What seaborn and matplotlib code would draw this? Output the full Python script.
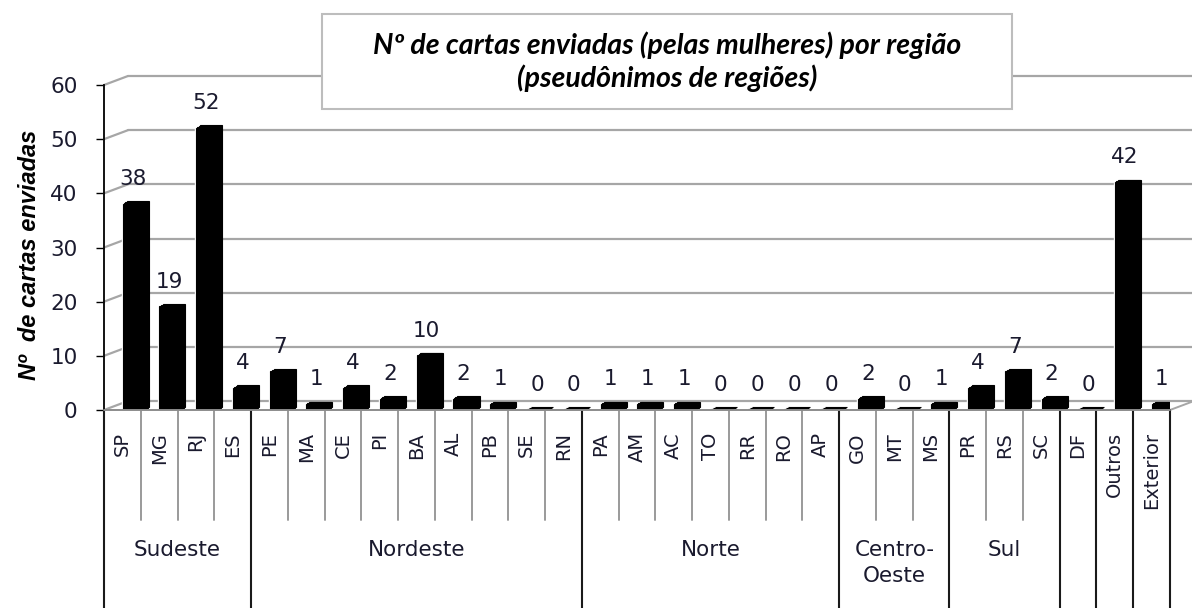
import matplotlib.pyplot as plt
import pandas as pd
import seaborn as sns
from matplotlib.patches import Rectangle
from matplotlib.transforms import ScaledTranslation, blended_transform_factory

# dados
estados = ['SP', 'MG', 'RJ', 'ES', 'PE', 'MA', 'CE', 'PI', 'BA', 'AL', 'PB', 'SE', 'RN',
           'PA', 'AM', 'AC', 'TO', 'RR', 'RO', 'AP', 'GO', 'MT', 'MS', 'PR', 'RS', 'SC',
           'DF', 'Outros', 'Exterior']
cartas = [38, 19, 52, 4, 7, 1, 4, 2, 10, 2, 1, 0, 0,
          1, 1, 1, 0, 0, 0, 0, 2, 0, 1, 4, 7, 2,
          0, 42, 1]
regioes = ['Sudeste', 'Nordeste', 'Norte', 'Centro-\nOeste', 'Sul', '', '', '']
tamanhos = [4, 9, 7, 3, 3, 1, 1, 1]
yticks = [0, 10, 20, 30, 40, 50, 60]

df = pd.DataFrame({'estado': estados, 'cartas': cartas})

sns.set_style('white')
plt.rcParams['font.family'] = ['DejaVu Sans']
txt = '#1a1a2e'

W, H = 1192, 608
fig = plt.figure(figsize=(W / 100, H / 100), dpi=100)
ax = fig.add_axes([104 / W, 1 - 410 / H, (1170 - 104) / W, (410 - 85) / H])

sns.barplot(df, x='estado', y='cartas', color='black', saturation=1,
            width=0.6, ax=ax, zorder=3)
ax.set_xlim(-0.5, len(estados) - 0.5)
ax.set_ylim(0, 60)

# barras deslocadas (efeito 3d)
for p in ax.patches:
    p.set_x(p.get_x() + 0.28)
for p in list(ax.patches):
    for k in range(1, 6):
        sh = ScaledTranslation(k / 100, k * 0.6 / 100, fig.dpi_scale_trans)
        r = Rectangle((p.get_x(), 0), p.get_width(), p.get_height(),
                      facecolor='black', edgecolor='black', lw=0.8,
                      transform=ax.transData + sh, zorder=3)
        ax.add_patch(r)
ax.bar_label(ax.containers[0], padding=11, fontsize=15.5, color=txt)

# parede do fundo / grade
off = ScaledTranslation(0.24, 0.09, fig.dpi_scale_trans)
inv = ax.transData.inverted()
p0 = ax.transData.transform((-0.5, 0))
dx, dy = inv.transform((p0[0] + 24, p0[1] + 9)) - inv.transform(p0)
for y in yticks:
    ax.plot([-0.5, 32], [y, y], transform=ax.transData + off, color='#a6a6a6',
            lw=1.6, clip_on=False, zorder=1)
    ax.plot([-0.5, -0.5 + dx], [y, y + dy], color='#a6a6a6', lw=1.6,
            clip_on=False, zorder=1)
# chao
ax.plot([-0.5, len(estados) - 0.5], [0, 0], color='#8c8c8c', lw=1.4,
        clip_on=False, zorder=4)
ax.plot([len(estados) - 0.5, len(estados) - 0.5 + dx], [0, dy],
        color='#a6a6a6', lw=1.4, clip_on=False, zorder=1)

sns.despine(ax=ax, top=True, right=True, bottom=True)
ax.spines['left'].set_color('black')
ax.spines['left'].set_linewidth(1.3)
ax.set_yticks(yticks)
ax.tick_params(axis='y', left=True, length=6, width=1, color='black',
               pad=13, labelsize=15.5, labelcolor=txt)
ax.set_xticks(range(len(estados)))
ax.set_xticklabels(estados, rotation=90)
ax.tick_params(axis='x', bottom=False, length=0, pad=16, labelsize=14,
               labelcolor=txt)
ax.set_xlabel('')
ax.set_ylabel('')

# eixo hierarquico
tr = blended_transform_factory(ax.transData, fig.transFigure)
y_ax = 1 - 410 / H
limites = [0]
for n in tamanhos:
    limites.append(limites[-1] + n)
for i in range(len(estados) + 1):
    if i in limites:
        ax.plot([i - 0.5, i - 0.5], [y_ax, 0], transform=tr, color='#1a1a1a',
                lw=1.5, clip_on=False)
    else:
        ax.plot([i - 0.5, i - 0.5], [y_ax, 1 - 520 / H], transform=tr,
                color='#9a9a9a', lw=1.4, clip_on=False)
for nome, a, n in zip(regioes, limites[:-1], tamanhos):
    ax.text(a + n / 2 - 0.5, 1 - 540 / H, nome, transform=tr, ha='center',
            va='top', fontsize=15.5, color=txt, linespacing=1.35)

fig.text(30 / W, 1 - 255 / H, 'Nº  de cartas enviadas', rotation=90,
         ha='center', va='center', fontsize=17, weight='bold', style='italic',
         color='black', family=['Liberation Sans', 'DejaVu Sans'])

# caixa do titulo
fig.add_artist(Rectangle((322 / W, 1 - 109 / H), (1012 - 322) / W, (109 - 14) / H,
                         transform=fig.transFigure, facecolor='white',
                         edgecolor='#bdbdbd', lw=1.5, zorder=5))
fig.text(667 / W, 1 - 62 / H,
         'Nº de cartas enviadas (pelas mulheres) por região\n(pseudônimos de regiões)',
         ha='center', va='center', fontsize=20.5, weight='bold', style='italic',
         linespacing=1.25, color='black', family=['Lato', 'DejaVu Sans'], zorder=6)

fig.savefig('out.png', dpi=100)
